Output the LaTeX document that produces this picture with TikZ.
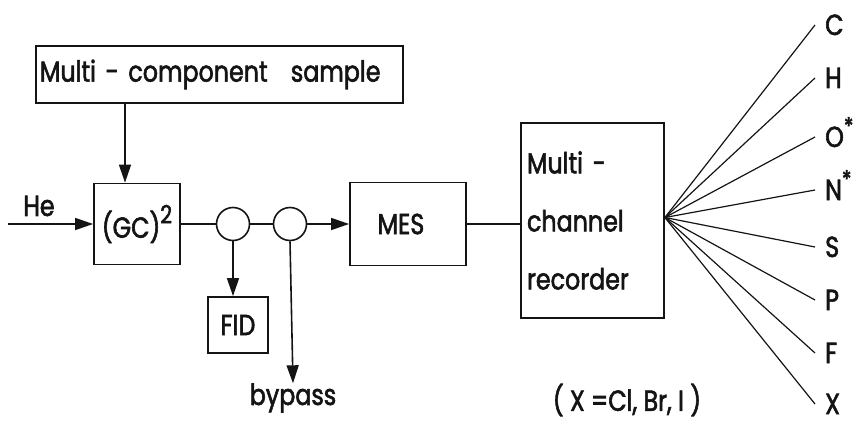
\documentclass[tikz,border=0pt]{standalone}
\usepackage{fontspec}
\setmainfont{Poppins}[FakeStretch=0.82, FakeBold=2]
\usetikzlibrary{arrows.meta, positioning, calc}
\definecolor{myink}{RGB}{20,20,20}
\newcommand{\bigtext}{\fontsize{29}{33}\selectfont}
\newcommand{\supstar}{\raisebox{0.42em}{\fontsize{24}{24}\selectfont *}}
\tikzset{
  block/.style={rectangle, draw=myink, line width=1.8pt, inner sep=0pt,
    font=\bigtext, text=myink},
  split/.style={circle, draw=myink, line width=1.6pt,
    minimum size=33pt, inner sep=0pt},
  arrow/.style={-{Triangle[length=18pt,width=12pt]}, line width=1.6pt, color=myink},
  line/.style={line width=1.6pt, color=myink},
  fanline/.style={line width=1.2pt, color=myink},
  lbl/.style={font=\bigtext, text=myink, inner sep=0pt},
  tag/.style={font=\bigtext, text=myink, anchor=west, inner xsep=10pt,
    inner ysep=0pt, text height=20pt, text depth=0pt}
}
\begin{document}
\begin{tikzpicture}[x=1pt, y=-1pt]
  \useasboundingbox (0,0) rectangle (859,428);
  % boxes
  \node[block, anchor=north west, minimum height=57pt, text width=359pt,
    inner xsep=4pt, align=left] (sample) at (35,45) {Multi - component\hspace{0.8em}sample};
  \node[block, minimum width=86pt, minimum height=81pt] (gc) at (137,224)
    {(GC)\raisebox{0.5em}{\fontsize{25}{25}\selectfont 2}};
  \node[split] (c1) at (233,224) {};
  \node[split] (c2) at (290,224) {};
  \node[block, minimum width=116pt, minimum height=83pt] (mes) at (408,224)
    {\hspace*{-14pt}MES};
  \node[block, minimum width=60pt, minimum height=56pt] (fid) at (238,325) {FID};
  \node[block, minimum width=143pt, minimum height=195pt, text width=131pt,
    align=left, font=\fontsize{29}{58}\selectfont] (rec) at (592.5,220.5)
    {Multi -\\channel\\recorder};
  % texts
  \node[lbl] (he) at (39,206) {He};
  \node[lbl] (bypass) at (293,398) {bypass};
  \node[lbl] (note) at (627,400) {( X =Cl, Br, I )};
  \coordinate (heat) at (8,224);
  \coordinate (feed) at ($(gc.north)+(-12,0)$);
  \coordinate (fan) at ($(rec.east)+(0,-3)$);
  % flow
  \draw[arrow] (sample.south -| feed) -- (feed);
  \draw[arrow] (heat) -- (gc.west);
  \draw[line] (gc.east) -- (c1.west);
  \draw[line] (c1.east) -- (c2.west);
  \draw[arrow] (c2.east) -- (mes.west);
  \draw[arrow] (c1.south) -- (c1.south |- fid.north);
  \draw[arrow] (c2.south) -- (bypass.north);
  \draw[line] (mes.east) -- (mes.east -| rec.west);
  % recorder channels
  \foreach \name/\ypos/\txt in {c/25/C, h/78/H, o/137/O\supstar, n/190/N\supstar,
      s/247/S, p/300/P, f/353/F, x/404/X} {
    \node[tag] (\name) at (815,\ypos) {\txt};
    \draw[fanline] (fan) -- (\name.west);
  }
\end{tikzpicture}
\end{document}
